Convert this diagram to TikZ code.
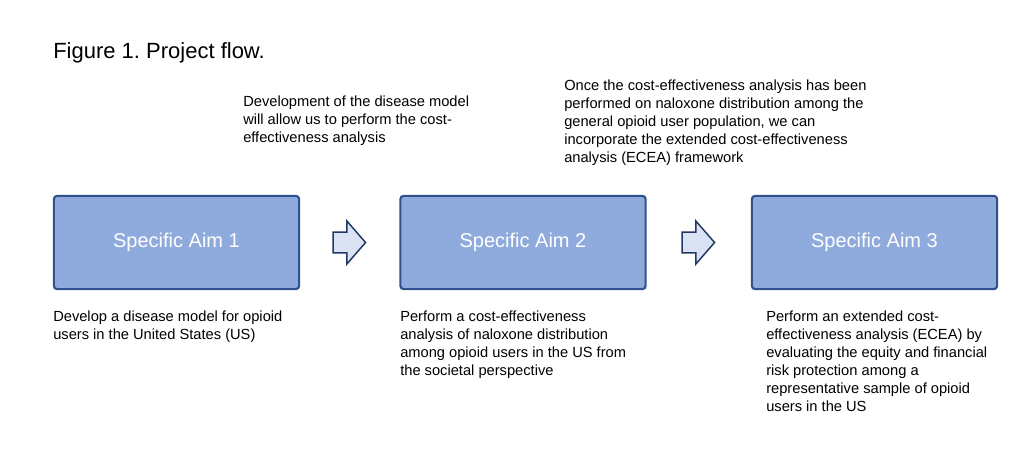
\documentclass[tikz,border=0pt]{standalone}
\usepackage{fontspec}
\setmainfont{Liberation Sans}
\usetikzlibrary{shapes.arrows,calc}

\definecolor{aimfill}{HTML}{8FAADC}
\definecolor{aimline}{HTML}{2F528F}
\definecolor{stepfill}{HTML}{DAE3F3}
\definecolor{stepline}{HTML}{203864}
\frenchspacing

\begin{document}
\begin{tikzpicture}[x=0.75pt,y=-0.75pt,
  aimbox/.style={draw=aimline,fill=aimfill,line width=1.6pt,rounded corners=2.5pt,
    minimum width=184pt,minimum height=70pt,text=white,font=\fontsize{15}{18}\selectfont},
  steparrow/.style={single arrow,draw=stepline,fill=stepfill,line width=1.1pt,
    inner xsep=0pt,inner ysep=7.3pt,minimum height=24.4pt,
    single arrow head extend=8.2pt,single arrow tip angle=98},
  note/.style={anchor=north west,inner sep=0pt,align=left,font=\fontsize{11}{13.5}\selectfont}]
\useasboundingbox (0,0) rectangle (1027,450);
\node[anchor=base west,inner sep=0pt,font=\fontsize{16.5}{20}\selectfont] (title) at (53,58) {Figure 1. Project flow.};
% the three aims
\node[aimbox] (aim1) at (176.5,242.5) {Specific Aim 1};
\node[aimbox] (aim2) at (523,242.5) {Specific Aim 2};
\node[aimbox] (aim3) at (874.5,242.5) {Specific Aim 3};
\node[steparrow] (arrow12) at ($(aim1.east)!0.5!(aim2.west)+(-5,0)$) {};
\node[steparrow] (arrow23) at ($(aim2.east)!0.5!(aim3.west)+(-5,0)$) {};
% notes above
\node[note] (above12) at (243,95.5) {Development of the disease model\\will allow us to perform the cost-\\effectiveness analysis};
\node[note] (above23) at (564,79.5) {Once the cost-effectiveness analysis has been\\performed on naloxone distribution among the\\general opioid user population, we can\\incorporate the extended cost-effectiveness\\analysis (ECEA) framework};
% notes below
\node[note] (below1) at (53,311) {Develop a disease model for opioid\\users in the United States (US)};
\node[note] (below2) at (400,311) {Perform a cost-effectiveness\\analysis of naloxone distribution\\among opioid users in the US from\\the societal perspective};
\node[note] (below3) at (766,311) {Perform an extended cost-\\effectiveness analysis (ECEA) by\\evaluating the equity and financial\\risk protection among a\\representative sample of opioid\\users in the US};
\end{tikzpicture}
\end{document}
